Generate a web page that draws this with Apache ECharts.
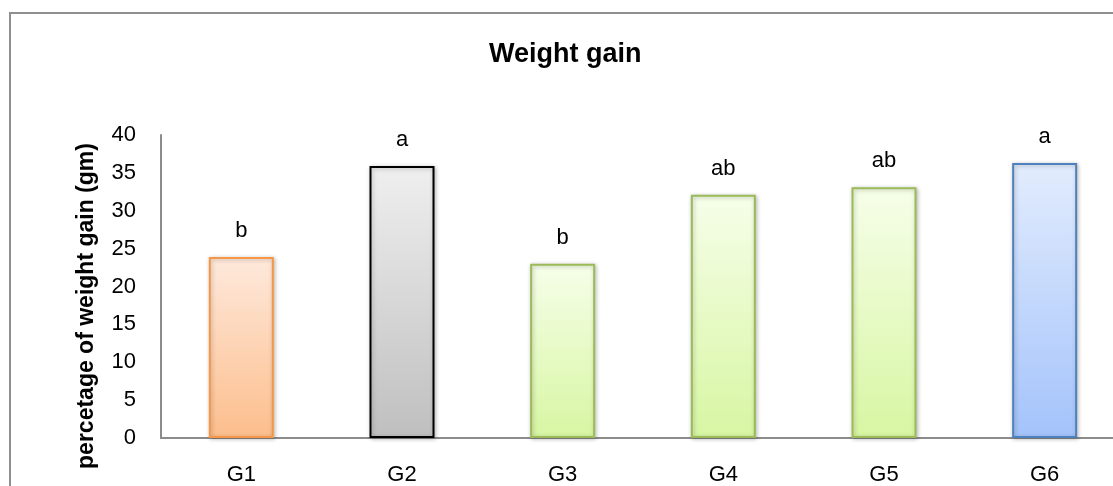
<!DOCTYPE html>
<html>
<head>
<meta charset="utf-8">
<script src="https://cdn.jsdelivr.net/npm/echarts@6.0.0/dist/echarts.min.js"></script>
<style>
html,body{margin:0;padding:0;background:#fff;}
#chart{width:1113px;height:486px;}
</style>
</head>
<body>
<div id="chart"></div>
<script>
var categories = ['G1', 'G2', 'G3', 'G4', 'G5', 'G6'];
var values = [23.9, 35.9, 23.0, 32.1, 33.1, 36.3];
var letters = ['b', 'a', 'b', 'ab', 'ab', 'a'];
var yTicks = { min: 0, max: 40, interval: 5 };

var barStyles = [
  { top: '#fee9dc', bottom: '#fcbe8c', border: '#f79646' },
  { top: '#efefef', bottom: '#bfbfbf', border: '#000000' },
  { top: '#f6fee9', bottom: '#d7f6a2', border: '#9bbb59' },
  { top: '#f6fee9', bottom: '#d7f6a2', border: '#9bbb59' },
  { top: '#f6fee9', bottom: '#d7f6a2', border: '#9bbb59' },
  { top: '#e2ecfd', bottom: '#a4c3fb', border: '#4f81bd' }
];

var FONT = '"Liberation Sans", Arial, sans-serif';

var chart = echarts.init(document.getElementById('chart'));
var seriesData = values.map(function (v, i) {
  var s = barStyles[i];
  return {
    value: v,
    itemStyle: {
      color: new echarts.graphic.LinearGradient(0, 0, 0, 1, [
        { offset: 0, color: s.top },
        { offset: 1, color: s.bottom }
      ]),
      borderColor: s.border,
      borderWidth: 2,
      shadowBlur: 4,
      shadowColor: 'rgba(0,0,0,0.25)',
      shadowOffsetX: 1,
      shadowOffsetY: 1
    }
  };
});

chart.setOption({
  animation: false,
  backgroundColor: '#ffffff',
  title: {
    text: 'Weight gain',
    left: 489,
    top: 41,
    padding: 0,
    textStyle: { fontFamily: FONT, fontWeight: 'bold', fontSize: 27, color: '#000' }
  },
  graphic: [
    {
      type: 'rect',
      silent: true,
      shape: { x: 10, y: 13, width: 1300, height: 700 },
      style: { fill: 'none', stroke: '#8f8f8f', lineWidth: 2 }
    },
    {
      type: 'text',
      silent: true,
      x: 87,
      y: 306,
      rotation: Math.PI / 2,
      style: {
        text: 'percetage of weight gain (gm)',
        fontFamily: FONT,
        fontWeight: 'bold',
        fontSize: 23,
        fill: '#000',
        textAlign: 'center',
        textVerticalAlign: 'middle'
      }
    }
  ],
  grid: {
    left: 161,
    right: -12,
    top: 135,
    bottom: 48,
    containLabel: false,
    outerBoundsMode: 'none'
  },
  xAxis: {
    type: 'category',
    data: categories,
    axisLine: { show: true, lineStyle: { color: '#8c8c8c', width: 2 } },
    axisTick: { show: false },
    axisLabel: { fontFamily: FONT, fontSize: 22, color: '#000', margin: 26 },
    splitLine: { show: false }
  },
  yAxis: {
    type: 'value',
    min: yTicks.min,
    max: yTicks.max,
    interval: yTicks.interval,
    axisLine: { show: true, lineStyle: { color: '#8c8c8c', width: 2 } },
    axisTick: { show: false },
    axisLabel: { fontFamily: FONT, fontSize: 22, color: '#000', margin: 25 },
    splitLine: { show: false }
  },
  series: [{
    type: 'bar',
    data: seriesData,
    barWidth: 65,
    label: {
      show: true,
      position: 'top',
      distance: 15,
      fontFamily: FONT,
      fontSize: 22,
      color: '#000',
      formatter: function (p) { return letters[p.dataIndex]; }
    }
  }]
});
</script>
</body>
</html>
